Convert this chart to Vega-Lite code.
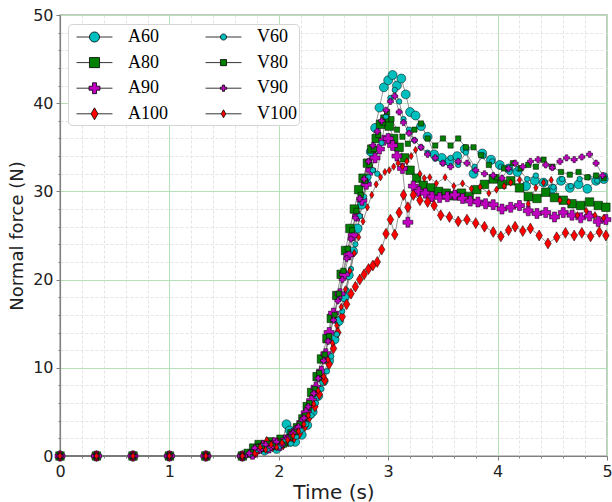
{
  "$schema": "https://vega.github.io/schema/vega-lite/v6.json",
  "width": 547,
  "height": 441,
  "autosize": {"type": "none"},
  "padding": {"left": 60, "top": 15, "right": 5, "bottom": 46},
  "background": "white",
  "config": {
    "view": {"stroke": "#b0b0b0", "strokeWidth": 1.5},
    "axis": {"labelFont": "DejaVu Sans", "titleFont": "DejaVu Sans", "labelColor": "#222", "titleColor": "#222", "titleFontWeight": "normal", "domainColor": "#808080", "domainWidth": 1.2, "tickColor": "#808080"}
  },
  "data": {"values": [
    {"s":"A60","t":0,"f":0},{"s":"A60","t":0.333,"f":0},{"s":"A60","t":0.667,"f":0},{"s":"A60","t":1.0,"f":0},{"s":"A60","t":1.333,"f":0},{"s":"A60","t":1.667,"f":0},
    {"s":"A60","t":1.76,"f":0.3},{"s":"A60","t":1.82,"f":0.9},{"s":"A60","t":1.87,"f":0.6},{"s":"A60","t":1.93,"f":1.2},{"s":"A60","t":1.98,"f":0.8},{"s":"A60","t":2.03,"f":1.4},{"s":"A60","t":2.07,"f":3.6},{"s":"A60","t":2.1,"f":2.9},{"s":"A60","t":2.15,"f":1.6},{"s":"A60","t":2.21,"f":2.4},{"s":"A60","t":2.26,"f":3.5},{"s":"A60","t":2.31,"f":5.0},{"s":"A60","t":2.36,"f":6.8},{"s":"A60","t":2.41,"f":8.5},{"s":"A60","t":2.46,"f":10.8},{"s":"A60","t":2.51,"f":13.2},{"s":"A60","t":2.55,"f":15.3},{"s":"A60","t":2.6,"f":18.0},{"s":"A60","t":2.64,"f":20.5},{"s":"A60","t":2.68,"f":23.2},{"s":"A60","t":2.72,"f":25.8},{"s":"A60","t":2.76,"f":28.5},{"s":"A60","t":2.8,"f":31.0},{"s":"A60","t":2.84,"f":34.5},{"s":"A60","t":2.88,"f":37.2},{"s":"A60","t":2.92,"f":39.5},{"s":"A60","t":2.96,"f":41.8},{"s":"A60","t":3.0,"f":42.6},{"s":"A60","t":3.04,"f":43.2},{"s":"A60","t":3.08,"f":42.0},{"s":"A60","t":3.12,"f":42.8},{"s":"A60","t":3.16,"f":41.0},{"s":"A60","t":3.2,"f":39.0},{"s":"A60","t":3.25,"f":38.6},{"s":"A60","t":3.3,"f":37.4},{"s":"A60","t":3.36,"f":36.2},{"s":"A60","t":3.42,"f":34.2},{"s":"A60","t":3.49,"f":33.8},{"s":"A60","t":3.56,"f":33.4},{"s":"A60","t":3.63,"f":34.0},{"s":"A60","t":3.7,"f":34.8},{"s":"A60","t":3.78,"f":32.0},{"s":"A60","t":3.86,"f":34.3},{"s":"A60","t":3.94,"f":33.6},{"s":"A60","t":4.02,"f":33.0},{"s":"A60","t":4.1,"f":32.6},{"s":"A60","t":4.18,"f":32.2},{"s":"A60","t":4.26,"f":30.6},{"s":"A60","t":4.34,"f":31.2},{"s":"A60","t":4.42,"f":31.0},{"s":"A60","t":4.5,"f":30.3},{"s":"A60","t":4.58,"f":31.2},{"s":"A60","t":4.66,"f":30.4},{"s":"A60","t":4.74,"f":30.8},{"s":"A60","t":4.82,"f":30.3},{"s":"A60","t":4.9,"f":31.2},{"s":"A60","t":4.97,"f":31.4},

    {"s":"A80","t":0,"f":0},{"s":"A80","t":0.333,"f":0},{"s":"A80","t":0.667,"f":0},{"s":"A80","t":1.0,"f":0},{"s":"A80","t":1.333,"f":0},{"s":"A80","t":1.667,"f":0},
    {"s":"A80","t":1.72,"f":0.3},{"s":"A80","t":1.77,"f":0.9},{"s":"A80","t":1.82,"f":1.3},{"s":"A80","t":1.87,"f":1.0},{"s":"A80","t":1.92,"f":1.6},{"s":"A80","t":1.97,"f":1.2},{"s":"A80","t":2.02,"f":1.9},{"s":"A80","t":2.07,"f":1.6},{"s":"A80","t":2.12,"f":2.5},{"s":"A80","t":2.17,"f":3.2},{"s":"A80","t":2.22,"f":4.2},{"s":"A80","t":2.26,"f":5.6},{"s":"A80","t":2.3,"f":7.2},{"s":"A80","t":2.35,"f":9.0},{"s":"A80","t":2.39,"f":11.0},{"s":"A80","t":2.44,"f":13.3},{"s":"A80","t":2.48,"f":15.6},{"s":"A80","t":2.53,"f":18.2},{"s":"A80","t":2.57,"f":20.6},{"s":"A80","t":2.61,"f":23.3},{"s":"A80","t":2.65,"f":25.8},{"s":"A80","t":2.69,"f":28.0},{"s":"A80","t":2.73,"f":30.2},{"s":"A80","t":2.77,"f":31.5},{"s":"A80","t":2.81,"f":33.2},{"s":"A80","t":2.85,"f":34.8},{"s":"A80","t":2.89,"f":36.0},{"s":"A80","t":2.93,"f":37.6},{"s":"A80","t":2.97,"f":38.2},{"s":"A80","t":3.01,"f":37.4},{"s":"A80","t":3.05,"f":36.0},{"s":"A80","t":3.1,"f":35.0},{"s":"A80","t":3.15,"f":33.8},{"s":"A80","t":3.2,"f":32.4},{"s":"A80","t":3.26,"f":31.5},{"s":"A80","t":3.32,"f":30.7},{"s":"A80","t":3.39,"f":30.4},{"s":"A80","t":3.46,"f":30.0},{"s":"A80","t":3.53,"f":29.8},{"s":"A80","t":3.6,"f":29.5},{"s":"A80","t":3.67,"f":29.8},{"s":"A80","t":3.74,"f":29.4},{"s":"A80","t":3.81,"f":30.2},{"s":"A80","t":3.88,"f":30.8},{"s":"A80","t":3.96,"f":31.4},{"s":"A80","t":4.04,"f":30.8},{"s":"A80","t":4.12,"f":31.2},{"s":"A80","t":4.2,"f":30.4},{"s":"A80","t":4.28,"f":29.4},{"s":"A80","t":4.36,"f":29.2},{"s":"A80","t":4.44,"f":29.9},{"s":"A80","t":4.52,"f":29.3},{"s":"A80","t":4.6,"f":29.0},{"s":"A80","t":4.68,"f":28.6},{"s":"A80","t":4.76,"f":28.4},{"s":"A80","t":4.84,"f":28.8},{"s":"A80","t":4.92,"f":28.4},{"s":"A80","t":4.99,"f":28.2},

    {"s":"A90","t":0,"f":0},{"s":"A90","t":0.333,"f":0},{"s":"A90","t":0.667,"f":0},{"s":"A90","t":1.0,"f":0},{"s":"A90","t":1.333,"f":0},{"s":"A90","t":1.667,"f":0},
    {"s":"A90","t":1.76,"f":0.2},{"s":"A90","t":1.81,"f":0.8},{"s":"A90","t":1.86,"f":1.2},{"s":"A90","t":1.91,"f":0.9},{"s":"A90","t":1.96,"f":1.5},{"s":"A90","t":2.01,"f":1.2},{"s":"A90","t":2.06,"f":1.8},{"s":"A90","t":2.11,"f":2.2},{"s":"A90","t":2.16,"f":2.9},{"s":"A90","t":2.21,"f":3.8},{"s":"A90","t":2.25,"f":4.9},{"s":"A90","t":2.3,"f":6.3},{"s":"A90","t":2.34,"f":7.8},{"s":"A90","t":2.39,"f":9.6},{"s":"A90","t":2.43,"f":11.6},{"s":"A90","t":2.46,"f":14.0},{"s":"A90","t":2.5,"f":16.2},{"s":"A90","t":2.56,"f":18.4},{"s":"A90","t":2.6,"f":20.6},{"s":"A90","t":2.64,"f":22.8},{"s":"A90","t":2.68,"f":25.0},{"s":"A90","t":2.72,"f":27.2},{"s":"A90","t":2.76,"f":29.0},{"s":"A90","t":2.8,"f":30.8},{"s":"A90","t":2.84,"f":32.4},{"s":"A90","t":2.88,"f":33.8},{"s":"A90","t":2.92,"f":34.8},{"s":"A90","t":2.96,"f":35.8},{"s":"A90","t":3.0,"f":36.0},{"s":"A90","t":3.04,"f":35.2},{"s":"A90","t":3.08,"f":34.0},{"s":"A90","t":3.13,"f":32.6},{"s":"A90","t":3.18,"f":26.5},{"s":"A90","t":3.23,"f":30.6},{"s":"A90","t":3.28,"f":30.0},{"s":"A90","t":3.34,"f":29.8},{"s":"A90","t":3.4,"f":29.4},{"s":"A90","t":3.47,"f":29.3},{"s":"A90","t":3.54,"f":29.4},{"s":"A90","t":3.61,"f":29.6},{"s":"A90","t":3.68,"f":29.2},{"s":"A90","t":3.75,"f":28.9},{"s":"A90","t":3.82,"f":28.8},{"s":"A90","t":3.89,"f":28.6},{"s":"A90","t":3.96,"f":28.5},{"s":"A90","t":4.04,"f":28.0},{"s":"A90","t":4.12,"f":28.2},{"s":"A90","t":4.2,"f":28.4},{"s":"A90","t":4.28,"f":27.8},{"s":"A90","t":4.36,"f":27.5},{"s":"A90","t":4.44,"f":27.6},{"s":"A90","t":4.52,"f":27.1},{"s":"A90","t":4.6,"f":27.6},{"s":"A90","t":4.68,"f":27.3},{"s":"A90","t":4.76,"f":27.0},{"s":"A90","t":4.84,"f":27.2},{"s":"A90","t":4.92,"f":26.6},{"s":"A90","t":4.99,"f":26.8},

    {"s":"A100","t":0,"f":0},{"s":"A100","t":0.333,"f":0},{"s":"A100","t":0.667,"f":0},{"s":"A100","t":1.0,"f":0},{"s":"A100","t":1.333,"f":0},{"s":"A100","t":1.667,"f":0},
    {"s":"A100","t":1.79,"f":0.4},{"s":"A100","t":1.84,"f":0.9},{"s":"A100","t":1.89,"f":1.6},{"s":"A100","t":1.94,"f":1.1},{"s":"A100","t":1.99,"f":1.5},{"s":"A100","t":2.04,"f":1.3},{"s":"A100","t":2.09,"f":1.7},{"s":"A100","t":2.14,"f":2.1},{"s":"A100","t":2.19,"f":2.6},{"s":"A100","t":2.24,"f":3.4},{"s":"A100","t":2.28,"f":4.4},{"s":"A100","t":2.33,"f":5.6},{"s":"A100","t":2.37,"f":7.0},{"s":"A100","t":2.42,"f":8.6},{"s":"A100","t":2.46,"f":10.4},{"s":"A100","t":2.5,"f":12.2},{"s":"A100","t":2.54,"f":14.0},{"s":"A100","t":2.58,"f":15.8},{"s":"A100","t":2.62,"f":17.2},{"s":"A100","t":2.66,"f":18.4},{"s":"A100","t":2.7,"f":19.2},{"s":"A100","t":2.74,"f":20.0},{"s":"A100","t":2.78,"f":20.6},{"s":"A100","t":2.82,"f":21.2},{"s":"A100","t":2.86,"f":21.6},{"s":"A100","t":2.9,"f":22.0},{"s":"A100","t":2.94,"f":23.4},{"s":"A100","t":2.98,"f":25.2},{"s":"A100","t":3.02,"f":26.8},{"s":"A100","t":3.06,"f":25.1},{"s":"A100","t":3.1,"f":27.6},{"s":"A100","t":3.14,"f":29.6},{"s":"A100","t":3.18,"f":28.2},{"s":"A100","t":3.23,"f":29.6},{"s":"A100","t":3.29,"f":29.0},{"s":"A100","t":3.36,"f":28.8},{"s":"A100","t":3.42,"f":28.4},{"s":"A100","t":3.48,"f":27.3},{"s":"A100","t":3.56,"f":27.1},{"s":"A100","t":3.64,"f":26.6},{"s":"A100","t":3.72,"f":26.8},{"s":"A100","t":3.8,"f":26.4},{"s":"A100","t":3.88,"f":26.0},{"s":"A100","t":3.96,"f":25.4},{"s":"A100","t":4.03,"f":24.9},{"s":"A100","t":4.1,"f":25.6},{"s":"A100","t":4.16,"f":26.0},{"s":"A100","t":4.23,"f":25.5},{"s":"A100","t":4.3,"f":25.8},{"s":"A100","t":4.38,"f":25.0},{"s":"A100","t":4.46,"f":24.1},{"s":"A100","t":4.54,"f":24.8},{"s":"A100","t":4.62,"f":25.3},{"s":"A100","t":4.7,"f":25.0},{"s":"A100","t":4.77,"f":25.3},{"s":"A100","t":4.85,"f":24.9},{"s":"A100","t":4.93,"f":25.4},{"s":"A100","t":4.99,"f":25.0},

    {"s":"V60","t":0,"f":0},{"s":"V60","t":0.333,"f":0},{"s":"V60","t":0.667,"f":0},{"s":"V60","t":1.0,"f":0},{"s":"V60","t":1.333,"f":0},{"s":"V60","t":1.667,"f":0},
    {"s":"V60","t":1.74,"f":0.2},{"s":"V60","t":1.8,"f":0.7},{"s":"V60","t":1.85,"f":1.1},{"s":"V60","t":1.9,"f":0.8},{"s":"V60","t":1.96,"f":1.3},{"s":"V60","t":2.01,"f":1.1},{"s":"V60","t":2.06,"f":1.7},{"s":"V60","t":2.11,"f":1.4},{"s":"V60","t":2.16,"f":2.2},{"s":"V60","t":2.2,"f":2.9},{"s":"V60","t":2.25,"f":3.6},{"s":"V60","t":2.3,"f":4.6},{"s":"V60","t":2.34,"f":6.0},{"s":"V60","t":2.39,"f":7.6},{"s":"V60","t":2.44,"f":9.6},{"s":"V60","t":2.48,"f":11.3},{"s":"V60","t":2.53,"f":13.8},{"s":"V60","t":2.58,"f":16.4},{"s":"V60","t":2.62,"f":18.8},{"s":"V60","t":2.66,"f":21.2},{"s":"V60","t":2.7,"f":24.0},{"s":"V60","t":2.74,"f":27.2},{"s":"V60","t":2.78,"f":29.4},{"s":"V60","t":2.82,"f":31.6},{"s":"V60","t":2.86,"f":32.4},{"s":"V60","t":2.9,"f":32.0},{"s":"V60","t":2.94,"f":35.5},{"s":"V60","t":2.98,"f":38.5},{"s":"V60","t":3.02,"f":40.6},{"s":"V60","t":3.06,"f":41.5},{"s":"V60","t":3.1,"f":40.2},{"s":"V60","t":3.14,"f":38.2},{"s":"V60","t":3.19,"f":37.0},{"s":"V60","t":3.24,"f":35.8},{"s":"V60","t":3.3,"f":35.0},{"s":"V60","t":3.36,"f":34.4},{"s":"V60","t":3.43,"f":33.7},{"s":"V60","t":3.5,"f":33.2},{"s":"V60","t":3.57,"f":33.8},{"s":"V60","t":3.64,"f":33.0},{"s":"V60","t":3.71,"f":34.4},{"s":"V60","t":3.79,"f":32.8},{"s":"V60","t":3.87,"f":34.0},{"s":"V60","t":3.95,"f":33.4},{"s":"V60","t":4.03,"f":32.8},{"s":"V60","t":4.11,"f":32.2},{"s":"V60","t":4.19,"f":32.6},{"s":"V60","t":4.27,"f":31.4},{"s":"V60","t":4.35,"f":31.8},{"s":"V60","t":4.43,"f":31.0},{"s":"V60","t":4.51,"f":30.5},{"s":"V60","t":4.59,"f":31.4},{"s":"V60","t":4.67,"f":30.6},{"s":"V60","t":4.75,"f":31.4},{"s":"V60","t":4.83,"f":31.6},{"s":"V60","t":4.91,"f":31.2},{"s":"V60","t":4.98,"f":31.8},

    {"s":"V80","t":0,"f":0},{"s":"V80","t":0.333,"f":0},{"s":"V80","t":0.667,"f":0},{"s":"V80","t":1.0,"f":0},{"s":"V80","t":1.333,"f":0},{"s":"V80","t":1.667,"f":0},
    {"s":"V80","t":1.75,"f":0.4},{"s":"V80","t":1.8,"f":1.0},{"s":"V80","t":1.85,"f":0.8},{"s":"V80","t":1.9,"f":1.4},{"s":"V80","t":1.95,"f":1.1},{"s":"V80","t":2.0,"f":1.6},{"s":"V80","t":2.05,"f":1.3},{"s":"V80","t":2.1,"f":2.1},{"s":"V80","t":2.15,"f":2.7},{"s":"V80","t":2.19,"f":3.6},{"s":"V80","t":2.24,"f":4.6},{"s":"V80","t":2.28,"f":6.0},{"s":"V80","t":2.33,"f":7.6},{"s":"V80","t":2.37,"f":9.4},{"s":"V80","t":2.42,"f":11.5},{"s":"V80","t":2.46,"f":13.6},{"s":"V80","t":2.51,"f":16.0},{"s":"V80","t":2.55,"f":18.4},{"s":"V80","t":2.59,"f":21.0},{"s":"V80","t":2.63,"f":23.5},{"s":"V80","t":2.67,"f":25.6},{"s":"V80","t":2.71,"f":27.8},{"s":"V80","t":2.75,"f":29.6},{"s":"V80","t":2.79,"f":31.2},{"s":"V80","t":2.83,"f":33.0},{"s":"V80","t":2.87,"f":34.8},{"s":"V80","t":2.91,"f":36.4},{"s":"V80","t":2.95,"f":37.8},{"s":"V80","t":2.99,"f":39.0},{"s":"V80","t":3.03,"f":38.2},{"s":"V80","t":3.08,"f":37.0},{"s":"V80","t":3.13,"f":36.2},{"s":"V80","t":3.18,"f":35.4},{"s":"V80","t":3.24,"f":37.0},{"s":"V80","t":3.3,"f":37.7},{"s":"V80","t":3.36,"f":36.0},{"s":"V80","t":3.43,"f":35.2},{"s":"V80","t":3.5,"f":36.0},{"s":"V80","t":3.57,"f":35.2},{"s":"V80","t":3.64,"f":36.0},{"s":"V80","t":3.71,"f":35.0},{"s":"V80","t":3.78,"f":35.0},{"s":"V80","t":3.85,"f":34.1},{"s":"V80","t":3.92,"f":33.0},{"s":"V80","t":3.99,"f":31.6},{"s":"V80","t":4.06,"f":32.6},{"s":"V80","t":4.14,"f":33.2},{"s":"V80","t":4.21,"f":32.6},{"s":"V80","t":4.28,"f":33.0},{"s":"V80","t":4.35,"f":32.8},{"s":"V80","t":4.42,"f":33.6},{"s":"V80","t":4.5,"f":32.8},{"s":"V80","t":4.58,"f":32.2},{"s":"V80","t":4.66,"f":31.9},{"s":"V80","t":4.74,"f":32.2},{"s":"V80","t":4.82,"f":31.6},{"s":"V80","t":4.9,"f":31.8},{"s":"V80","t":4.97,"f":31.5},

    {"s":"V90","t":0,"f":0},{"s":"V90","t":0.333,"f":0},{"s":"V90","t":0.667,"f":0},{"s":"V90","t":1.0,"f":0},{"s":"V90","t":1.333,"f":0},{"s":"V90","t":1.667,"f":0},
    {"s":"V90","t":1.73,"f":0.3},{"s":"V90","t":1.78,"f":0.9},{"s":"V90","t":1.83,"f":0.7},{"s":"V90","t":1.88,"f":1.3},{"s":"V90","t":1.93,"f":1.0},{"s":"V90","t":1.98,"f":1.6},{"s":"V90","t":2.03,"f":1.3},{"s":"V90","t":2.08,"f":2.0},{"s":"V90","t":2.13,"f":2.6},{"s":"V90","t":2.18,"f":3.3},{"s":"V90","t":2.23,"f":4.3},{"s":"V90","t":2.27,"f":5.6},{"s":"V90","t":2.32,"f":7.1},{"s":"V90","t":2.36,"f":8.8},{"s":"V90","t":2.41,"f":10.8},{"s":"V90","t":2.45,"f":13.0},{"s":"V90","t":2.5,"f":15.4},{"s":"V90","t":2.54,"f":17.6},{"s":"V90","t":2.58,"f":20.0},{"s":"V90","t":2.62,"f":22.4},{"s":"V90","t":2.66,"f":24.6},{"s":"V90","t":2.7,"f":27.0},{"s":"V90","t":2.74,"f":29.2},{"s":"V90","t":2.78,"f":31.4},{"s":"V90","t":2.82,"f":33.4},{"s":"V90","t":2.86,"f":35.2},{"s":"V90","t":2.9,"f":36.8},{"s":"V90","t":2.94,"f":38.0},{"s":"V90","t":2.98,"f":39.2},{"s":"V90","t":3.02,"f":40.2},{"s":"V90","t":3.06,"f":40.8},{"s":"V90","t":3.1,"f":39.0},{"s":"V90","t":3.14,"f":37.8},{"s":"V90","t":3.19,"f":36.6},{"s":"V90","t":3.24,"f":35.8},{"s":"V90","t":3.3,"f":35.0},{"s":"V90","t":3.36,"f":34.2},{"s":"V90","t":3.43,"f":33.8},{"s":"V90","t":3.5,"f":33.2},{"s":"V90","t":3.57,"f":32.8},{"s":"V90","t":3.64,"f":33.4},{"s":"V90","t":3.72,"f":33.2},{"s":"V90","t":3.8,"f":32.4},{"s":"V90","t":3.88,"f":32.0},{"s":"V90","t":3.96,"f":31.8},{"s":"V90","t":4.04,"f":31.5},{"s":"V90","t":4.1,"f":32.6},{"s":"V90","t":4.16,"f":33.2},{"s":"V90","t":4.23,"f":32.8},{"s":"V90","t":4.3,"f":33.4},{"s":"V90","t":4.37,"f":33.6},{"s":"V90","t":4.44,"f":33.0},{"s":"V90","t":4.5,"f":32.7},{"s":"V90","t":4.57,"f":33.4},{"s":"V90","t":4.63,"f":33.8},{"s":"V90","t":4.7,"f":33.6},{"s":"V90","t":4.77,"f":33.9},{"s":"V90","t":4.84,"f":34.2},{"s":"V90","t":4.9,"f":33.2},{"s":"V90","t":4.96,"f":31.8},

    {"s":"V100","t":0,"f":0},{"s":"V100","t":0.333,"f":0},{"s":"V100","t":0.667,"f":0},{"s":"V100","t":1.0,"f":0},{"s":"V100","t":1.333,"f":0},{"s":"V100","t":1.667,"f":0},
    {"s":"V100","t":1.78,"f":0.3},{"s":"V100","t":1.83,"f":1.0},{"s":"V100","t":1.88,"f":0.7},{"s":"V100","t":1.93,"f":1.3},{"s":"V100","t":1.98,"f":1.0},{"s":"V100","t":2.03,"f":1.5},{"s":"V100","t":2.08,"f":1.8},{"s":"V100","t":2.13,"f":2.3},{"s":"V100","t":2.18,"f":2.8},{"s":"V100","t":2.23,"f":3.6},{"s":"V100","t":2.27,"f":4.6},{"s":"V100","t":2.32,"f":5.9},{"s":"V100","t":2.36,"f":7.4},{"s":"V100","t":2.41,"f":9.0},{"s":"V100","t":2.45,"f":10.9},{"s":"V100","t":2.49,"f":12.8},{"s":"V100","t":2.53,"f":14.8},{"s":"V100","t":2.57,"f":16.9},{"s":"V100","t":2.61,"f":18.9},{"s":"V100","t":2.65,"f":21.0},{"s":"V100","t":2.69,"f":23.0},{"s":"V100","t":2.73,"f":24.8},{"s":"V100","t":2.77,"f":26.6},{"s":"V100","t":2.81,"f":28.2},{"s":"V100","t":2.85,"f":29.6},{"s":"V100","t":2.89,"f":30.8},{"s":"V100","t":2.93,"f":31.6},{"s":"V100","t":2.97,"f":32.2},{"s":"V100","t":3.01,"f":32.4},{"s":"V100","t":3.05,"f":32.8},{"s":"V100","t":3.09,"f":33.2},{"s":"V100","t":3.13,"f":32.8},{"s":"V100","t":3.17,"f":33.4},{"s":"V100","t":3.21,"f":34.0},{"s":"V100","t":3.25,"f":34.7},{"s":"V100","t":3.29,"f":32.0},{"s":"V100","t":3.33,"f":31.5},{"s":"V100","t":3.38,"f":31.6},{"s":"V100","t":3.44,"f":30.9},{"s":"V100","t":3.52,"f":31.6},{"s":"V100","t":3.6,"f":30.6},{"s":"V100","t":3.68,"f":30.9},{"s":"V100","t":3.76,"f":30.3},{"s":"V100","t":3.84,"f":30.5},{"s":"V100","t":3.92,"f":29.8},{"s":"V100","t":3.99,"f":30.2},{"s":"V100","t":4.06,"f":30.6},{"s":"V100","t":4.12,"f":31.0},{"s":"V100","t":4.2,"f":31.3},{"s":"V100","t":4.28,"f":28.6},{"s":"V100","t":4.35,"f":30.4},{"s":"V100","t":4.42,"f":31.0},{"s":"V100","t":4.49,"f":31.3},{"s":"V100","t":4.57,"f":29.0},{"s":"V100","t":4.65,"f":28.8},{"s":"V100","t":4.73,"f":27.3},{"s":"V100","t":4.81,"f":27.8},{"s":"V100","t":4.89,"f":27.3},{"s":"V100","t":4.97,"f":27.0}
  ]},
  "encoding": {
    "x": {
      "field": "t", "type": "quantitative",
      "scale": {"domain": [0, 5], "nice": false, "zero": false},
      "axis": {
        "title": "Time (s)", "titleFontSize": 20, "titlePadding": 3,
        "values": [0,0.2,0.4,0.6,0.8,1,1.2,1.4,1.6,1.8,2,2.2,2.4,2.6,2.8,3,3.2,3.4,3.6,3.8,4,4.2,4.4,4.6,4.8,5],
        "labelExpr": "datum.value % 1 === 0 ? format(datum.value, 'd') : ''",
        "labelFontSize": 16, "labelPadding": 3, "labelFlush": false,
        "tickSize": {"condition": {"test": "datum.value % 1 === 0", "value": 4}, "value": 2},
        "gridColor": {"condition": {"test": "datum.value % 1 === 0", "value": "#b8e0b8"}, "value": "#e4e4e4"},
        "gridDash": {"condition": {"test": "datum.value % 1 === 0", "value": []}, "value": [3, 2]},
        "gridWidth": 1
      }
    },
    "y": {
      "field": "f", "type": "quantitative",
      "scale": {"domain": [0, 50], "nice": false},
      "axis": {
        "title": "Normal force (N)", "titleFontSize": 18, "titlePadding": 6,
        "values": [0,2,4,6,8,10,12,14,16,18,20,22,24,26,28,30,32,34,36,38,40,42,44,46,48,50],
        "labelExpr": "datum.value % 10 === 0 ? format(datum.value, 'd') : ''",
        "labelFontSize": 16, "labelPadding": 3, "labelFlush": false,
        "tickSize": {"condition": {"test": "datum.value % 10 === 0", "value": 4}, "value": 2},
        "gridColor": {"condition": {"test": "datum.value % 10 === 0", "value": "#b8e0b8"}, "value": "#e4e4e4"},
        "gridDash": {"condition": {"test": "datum.value % 10 === 0", "value": []}, "value": [3, 2]},
        "gridWidth": 1
      }
    }
  },
  "layer": [
    {
      "mark": {"type": "line", "color": "#7a7a7a", "strokeWidth": 0.8},
      "encoding": {"detail": {"field": "s"}}
    },
    {
      "transform": [{"filter": "false"}],
      "mark": {"type": "point", "filled": true, "stroke": "#555555", "strokeWidth": 0.8, "opacity": 1},
      "encoding": {
        "color": {
          "field": "s", "type": "nominal",
          "scale": {"domain": ["A60","A80","A90","A100","V60","V80","V90","V100"], "range": ["#00bfbf","#008000","#bf00bf","#ff0000","#00bfbf","#008000","#bf00bf","#ff0000"]},
          "legend": {
            "title": null, "orient": "none", "legendX": 8, "legendY": 9, "columns": 2,
            "columnPadding": 31, "rowPadding": 5.6, "symbolSize": 441, "symbolOffset": 13.5, "labelOffset": 22.5,
            "labelFont": "Liberation Serif", "labelFontSize": 18, "labelColor": "black",
            "fillColor": "white", "strokeColor": "#d4d4d4", "cornerRadius": 4, "padding": 2,
            "symbolStrokeWidth": 0.8, "symbolStrokeColor": "#555555", "symbolOpacity": 1
          }
        },
        "shape": {
          "field": "s", "type": "nominal",
          "scale": {"domain": ["A60","A80","A90","A100","V60","V80","V90","V100"], "range": [
            "M-1.71,0H-0.48M0.48,0H1.71M-0.48,0A0.48,0.48,0,1,0,0.48,0A0.48,0.48,0,1,0,-0.48,0Z",
            "M-1.71,0H-0.48M0.48,0H1.71M-0.48,-0.48H0.48V0.48H-0.48Z",
            "M-1.71,0H-0.52M0.52,0H1.71M-0.19,-0.52H0.19V-0.19H0.52V0.19H0.19V0.52H-0.19V0.19H-0.52V-0.19H-0.19Z",
            "M-1.71,0H-0.33M0.33,0H1.71M0,-0.57L0.33,0L0,0.57L-0.33,0Z",
            "M-1.71,0H-0.29M0.29,0H1.71M-0.29,0A0.29,0.29,0,1,0,0.29,0A0.29,0.29,0,1,0,-0.29,0Z",
            "M-1.71,0H-0.29M0.29,0H1.71M-0.29,-0.29H0.29V0.29H-0.29Z",
            "M-1.71,0H-0.3M0.3,0H1.71M-0.1,-0.3H0.1V-0.1H0.3V0.1H0.1V0.3H-0.1V0.1H-0.3V-0.1H-0.1Z",
            "M-1.71,0H-0.22M0.22,0H1.71M0,-0.38L0.22,0L0,0.38L-0.22,0Z"
          ]}
        }
      }
    },
    {
      "mark": {"type": "point", "filled": true, "stroke": "black", "strokeWidth": 0.5, "opacity": 1},
      "encoding": {
        "color": {"field": "s", "type": "nominal"},
        "shape": {
          "condition": [
            {"test": "datum.s === 'A60' || datum.s === 'V60'", "value": "circle"},
            {"test": "datum.s === 'A80' || datum.s === 'V80'", "value": "square"},
            {"test": "datum.s === 'A90' || datum.s === 'V90'", "value": "cross"}
          ],
          "value": "M0,-1L0.6,0L0,1L-0.6,0Z"
        },
        "size": {
          "condition": [
            {"test": "datum.s === 'A60'", "value": 80},
            {"test": "datum.s === 'A80'", "value": 72},
            {"test": "datum.s === 'A90'", "value": 100},
            {"test": "datum.s === 'A100'", "value": 120},
            {"test": "datum.s === 'V60'", "value": 30},
            {"test": "datum.s === 'V80'", "value": 28},
            {"test": "datum.s === 'V90'", "value": 38}
          ],
          "value": 52
        }
      }
    }
  ]
}
